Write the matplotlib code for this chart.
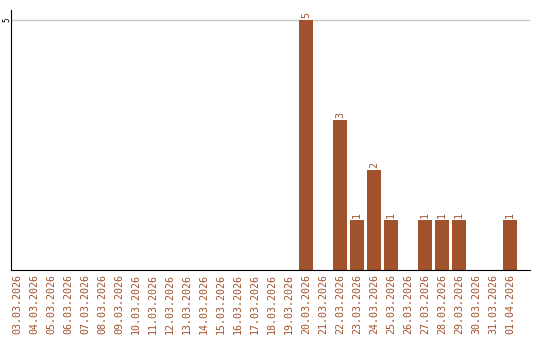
import numpy as np
import matplotlib.pyplot as plt

dates = ["03.03.2026", "04.03.2026", "05.03.2026", "06.03.2026", "07.03.2026",
         "08.03.2026", "09.03.2026", "10.03.2026", "11.03.2026", "12.03.2026",
         "13.03.2026", "14.03.2026", "15.03.2026", "16.03.2026", "17.03.2026",
         "18.03.2026", "19.03.2026", "20.03.2026", "21.03.2026", "22.03.2026",
         "23.03.2026", "24.03.2026", "25.03.2026", "26.03.2026", "27.03.2026",
         "28.03.2026", "29.03.2026", "30.03.2026", "31.03.2026", "01.04.2026"]
counts = [0, 0, 0, 0, 0, 0, 0, 0, 0, 0,
          0, 0, 0, 0, 0, 0, 0, 5, 0, 3,
          1, 2, 1, 0, 1, 1, 1, 0, 0, 1]

col = '#A0522D'
mono = 'DejaVu Sans Mono'

fig = plt.figure(figsize=(5.4, 3.4), dpi=100)
ax = fig.add_axes([11/540, 1-270/340, 519/540, 260/340])

x = np.arange(len(dates))
ax.bar(x, counts, width=0.82, color=col, zorder=2)
for xi, c in zip(x, counts):
    if c > 0:
        ax.text(xi, c + 0.04, str(c), rotation=90, ha='center', va='bottom',
                color=col, fontsize=7.2, family=mono)

ax.set_xlim(-0.35, 30.18)
ax.set_ylim(0, 5.2)
ax.axhline(5, color='#c8c8c8', lw=1, zorder=1)

ax.set_xticks(x)
ax.set_xticklabels(dates, rotation=90, color=col, fontsize=7.2, family=mono)
ax.set_yticks([5])
ax.set_yticklabels(['5'], rotation=90, fontsize=5.5, family=mono, va='center')
ax.tick_params(axis='x', length=0, pad=3)
ax.tick_params(axis='y', length=0, pad=0)
for s in ['top', 'right']:
    ax.spines[s].set_visible(False)
ax.spines['left'].set_color('black')
ax.spines['bottom'].set_color('black')

fig.savefig('out.png', dpi=100)
